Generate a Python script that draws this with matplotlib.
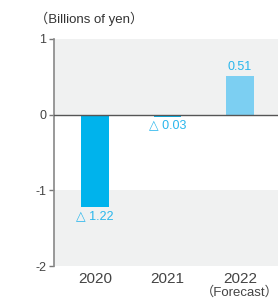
import matplotlib.pyplot as plt
import numpy as np

years = ["2020", "2021", "2022"]
sublabels = ["", "", "（Forecast）"]
values = [-1.22, -0.03, 0.51]
value_labels = ["△ 1.22", "△ 0.03", "0.51"]
bar_colors = ["#00b3ec", "#00b3ec", "#7ccff2"]

FONT = ["Liberation Sans", "DejaVu Sans", "Noto Sans CJK JP"]
plt.rcParams["font.family"] = FONT

def main():
    fig = plt.figure(figsize=(2.78, 3.02), dpi=100)
    ax = fig.add_axes([0.194, 0.119, 0.806, 0.752])

    ax.axhspan(0, 1, color="#f0f1f1", lw=0, zorder=0)
    ax.axhspan(-2, -1, color="#f0f1f1", lw=0, zorder=0)

    x = np.arange(len(years))
    ax.bar(x, values, width=0.38, color=bar_colors, zorder=2)
    ax.axhline(0, color="#555555", lw=1.0, zorder=3)

    for xi, v, lab in zip(x, values, value_labels):
        if v >= 0:
            ax.annotate(lab, (xi, v), xytext=(0, 2), textcoords="offset points",
                        ha="center", va="bottom", fontsize=9, color="#29b6ec")
        else:
            ax.annotate(lab, (xi, v), xytext=(0, -2), textcoords="offset points",
                        ha="center", va="top", fontsize=9, color="#29b6ec")

    ax.set_xlim(-0.566, 2.524)
    ax.set_ylim(-2, 1)
    ax.set_yticks([1, 0, -1, -2])
    ax.set_yticklabels(["1", "0", "-1", "-2"])
    ax.set_xticks(x)
    ax.set_xticklabels(years)
    ax.tick_params(axis="x", length=0, labelsize=11, colors="#444444", pad=4)
    ax.tick_params(axis="y", length=3.5, width=1, labelsize=9, colors="#444444",
                   pad=2, color="#777777")

    for s in ["top", "right", "bottom"]:
        ax.spines[s].set_visible(False)
    ax.spines["left"].set_color("#888888")
    ax.spines["left"].set_linewidth(1.2)

    for xi, sub in zip(x, sublabels):
        if sub:
            ax.annotate(sub, (xi, -2), xytext=(0, -14.5), textcoords="offset points",
                        ha="center", va="top", fontsize=9.5, color="#444444")

    fig.text(0.125, 0.937, "（Billions of yen）", ha="left", va="center",
             fontsize=9.5, color="#333333")

    fig.savefig("out.png", dpi=100)


if __name__ == "__main__":
    main()
